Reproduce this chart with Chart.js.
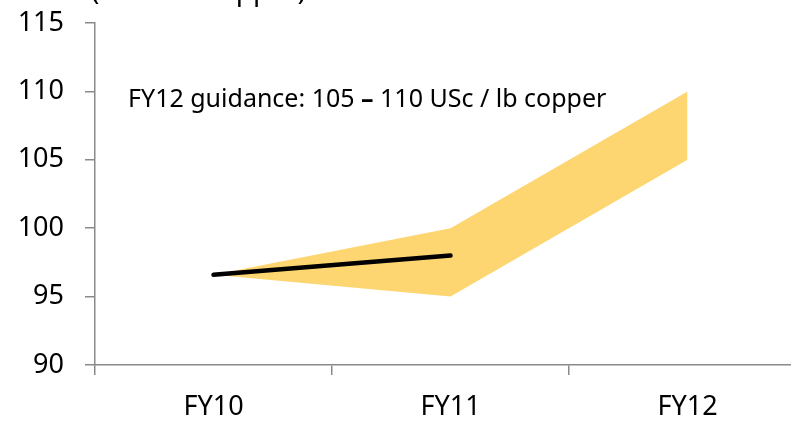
<!DOCTYPE html>
<html>
<head>
<meta charset="utf-8">
<script src="https://cdn.jsdelivr.net/npm/chart.js@4"></script>
<style>
  html, body { margin: 0; padding: 0; background: #fff; overflow: hidden; }
  #wrap { position: relative; width: 830px; height: 422px; }
</style>
</head>
<body>
<div id="wrap"><canvas id="costChart" width="830" height="422"></canvas></div>
<script>
// values
var categories = ['FY10', 'FY11', 'FY12'];
var guidanceHigh = [96.6, 100, 110];
var guidanceLow = [96.6, 95, 105];
var actualCost = [96.6, 98, null];
var yTicks = [90, 95, 100, 105, 110, 115];
var unitTitle = '(USc / lb copper)';
var noteParts = ['FY12 guidance: 105 ', '\u2013', ' 110 USc / lb copper'];

var FONT = "'Noto Sans', sans-serif";
var axisGrey = '#8a8a8a';
var bandColor = '#FDD571';

Chart.defaults.font.family = FONT;
Chart.defaults.color = '#000';

// draws the cut-off unit title and the guidance note
var textPlugin = {
    id: 'textPlugin',
    afterDraw: function(chart) {
        var ctx = chart.ctx;
        var y = chart.scales.y;
        ctx.save();
        ctx.fillStyle = '#000';
        ctx.font = '28px ' + FONT;
        ctx.textBaseline = 'alphabetic';
        ctx.fillText(unitTitle, 91, 0);

        var x = chart.chartArea.left + 33;
        var ty = y.getPixelForValue(109.4);
        ctx.textBaseline = 'middle';
        for (var i = 0; i < noteParts.length; i++) {
            ctx.font = (i === 1 ? 'bold ' : '') + '25px ' + FONT;
            ctx.fillText(noteParts[i], x, ty);
            x += ctx.measureText(noteParts[i]).width;
        }
        ctx.restore();
    }
};

var chart = new Chart(document.getElementById('costChart'), {
    type: 'line',
    data: {
        labels: categories,
        datasets: [
            {
                data: actualCost,
                borderColor: '#000',
                borderWidth: 4.5,
                borderCapStyle: 'round',
                pointRadius: 0,
                fill: false,
                order: 0
            },
            {
                data: guidanceHigh,
                borderWidth: 0,
                borderColor: 'rgba(0,0,0,0)',
                pointRadius: 0,
                fill: false,
                order: 2
            },
            {
                data: guidanceLow,
                borderWidth: 0,
                borderColor: 'rgba(0,0,0,0)',
                backgroundColor: bandColor,
                pointRadius: 0,
                fill: '-1',
                order: 1
            }
        ]
    },
    options: {
        responsive: false,
        animation: false,
        layout: { padding: { top: 23, right: 24, left: 0, bottom: 0 } },
        plugins: {
            legend: { display: false },
            tooltip: { enabled: false }
        },
        scales: {
            x: {
                offset: true,
                grid: { offset: true, drawOnChartArea: false, drawTicks: true, tickLength: 10, color: axisGrey, lineWidth: 1.5 },
                border: { color: axisGrey, width: 1.5 },
                ticks: { padding: 16, font: { size: 27 }, color: '#000' },
                afterFit: function(scale) {
                    scale.height = 57;
                    scale.paddingLeft = 0;
                    scale.paddingRight = 0;
                }
            },
            y: {
                min: 90,
                max: 115,
                afterBuildTicks: function(scale) {
                    scale.ticks = yTicks.map(function(v) { return { value: v }; });
                },
                grid: { drawOnChartArea: false, drawTicks: true, tickLength: 10, color: axisGrey, lineWidth: 1.5 },
                border: { color: axisGrey, width: 1.5 },
                ticks: { padding: 21, font: { size: 27 }, color: '#000' },
                afterFit: function(scale) {
                    scale.width = 95;
                    scale.paddingTop = 0;
                    scale.paddingBottom = 0;
                }
            }
        }
    },
    plugins: [textPlugin]
});
</script>
</body>
</html>
